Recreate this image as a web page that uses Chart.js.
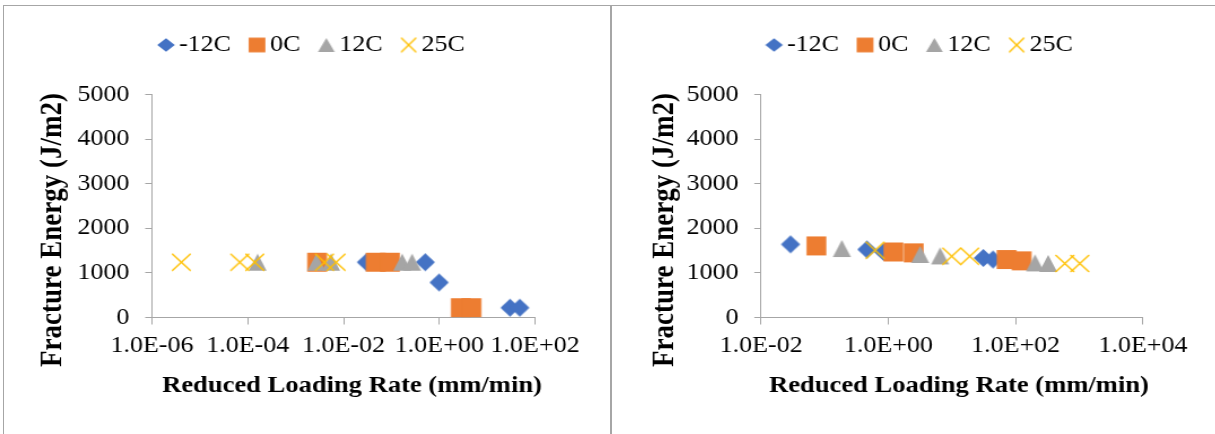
<!DOCTYPE html>
<html><head><meta charset="utf-8">
<script src="https://cdn.jsdelivr.net/npm/chart.js@4.4.1/dist/chart.umd.min.js"></script>
<style>
html,body{margin:0;padding:0;background:#fff;width:1215px;height:434px;overflow:hidden;position:relative}
.wrap{position:absolute;top:0;transform:scaleX(1.13);transform-origin:0 0}
.line{position:absolute;background:#a6a6a6}
</style></head><body>
<div class="wrap" style="left:0"><canvas id="c1" width="540" height="434"></canvas></div>
<div class="wrap" style="left:612px"><canvas id="c2" width="534" height="434"></canvas></div>
<div class="line" style="left:3px;top:5px;width:1212px;height:1px"></div>
<div class="line" style="left:3px;top:5px;width:1px;height:429px"></div>
<div class="line" style="left:610px;top:5px;width:2px;height:429px"></div>
<script>
// ---- data ----
const seriesNames = ['-12C', '0C', '12C', '25C'];
const seriesColors = ['#4472C4', '#ED7D31', '#A5A5A5', '#FFC000'];

// left chart
const leftRateM12 = [0.030, 0.51, 0.99, 30, 48];
const leftEnergyM12 = [1240, 1240, 785, 220, 220];
const leftRate0 = [0.0028, 0.047, 0.093, 2.8, 4.7];
const leftEnergy0 = [1240, 1240, 1240, 220, 220];
const leftRate12 = [1.6e-4, 2.7e-3, 5.5e-3, 0.168, 0.27];
const leftEnergy12 = [1240, 1240, 1240, 1240, 1240];
const leftRate25 = [4.1e-6, 6.8e-5, 1.4e-4, 4.0e-3, 7.0e-3];
const leftEnergy25 = [1240, 1240, 1240, 1240, 1240];

// right chart
const rightRateM12 = [0.029, 0.46, 0.84, 31, 44];
const rightEnergyM12 = [1640, 1525, 1470, 1335, 1300];
const rightRate0 = [0.074, 1.2, 2.5, 72, 124];
const rightEnergy0 = [1605, 1470, 1450, 1300, 1270];
const rightRate12 = [0.186, 3.15, 6.5, 201, 324];
const rightEnergy12 = [1547, 1413, 1381, 1224, 1211];
const rightRate25 = [0.62, 9.9, 19, 592, 1016];
const rightEnergy25 = [1509, 1374, 1374, 1211, 1211];

// ticks
const leftXTickValues = [1e-6, 1e-4, 1e-2, 1, 1e2];
const leftXTickLabels = ['1.0E-06', '1.0E-04', '1.0E-02', '1.0E+00', '1.0E+02'];
const rightXTickValues = [1e-2, 1, 1e2, 1e4];
const rightXTickLabels = ['1.0E-02', '1.0E+00', '1.0E+02', '1.0E+04'];
const yTickValues = [0, 1000, 2000, 3000, 4000, 5000];
const yTickLabels = ['0', '1000', '2000', '3000', '4000', '5000'];

const xTitle = 'Reduced Loading Rate (mm/min)';
const yTitle = 'Fracture Energy (J/m2)';

// ---- markers ----
function marker(shape, w, h, color) {
  const c = document.createElement('canvas');
  c.width = Math.ceil(w) + 2; c.height = Math.ceil(h) + 2;
  const g = c.getContext('2d');
  const cx = c.width / 2, cy = c.height / 2;
  g.fillStyle = color; g.strokeStyle = color;
  g.beginPath();
  if (shape === 'diamond') {
    g.moveTo(cx, cy - h / 2); g.lineTo(cx + w / 2, cy); g.lineTo(cx, cy + h / 2); g.lineTo(cx - w / 2, cy); g.closePath(); g.fill();
  } else if (shape === 'square') {
    g.fillRect(cx - w / 2, cy - h / 2, w, h);
  } else if (shape === 'triangle') {
    g.moveTo(cx, cy - h / 2); g.lineTo(cx + w / 2, cy + h / 2); g.lineTo(cx - w / 2, cy + h / 2); g.closePath(); g.fill();
  } else {
    g.lineWidth = 1.4;
    g.moveTo(cx - w / 2, cy - h / 2); g.lineTo(cx + w / 2, cy + h / 2);
    g.moveTo(cx + w / 2, cy - h / 2); g.lineTo(cx - w / 2, cy + h / 2); g.stroke();
  }
  return c;
}
const plotMarkers = [
  marker('diamond', 17, 18, seriesColors[0]),
  marker('square', 17.5, 19, seriesColors[1]),
  marker('triangle', 16, 17, seriesColors[2]),
  marker('x', 16.5, 17, seriesColors[3])
];
const legendMarkers = [
  marker('diamond', 15.5, 13.5, seriesColors[0]),
  marker('square', 14.8, 14.7, seriesColors[1]),
  marker('triangle', 14.8, 14, seriesColors[2]),
  marker('x', 13.3, 14.5, seriesColors[3])
];

const FONT = 'Liberation Serif';
const AXIS_GRAY = '#a6a6a6';

function makeDatasets(rates, energies) {
  return seriesNames.map((name, i) => ({
    label: name,
    data: rates[i].map((r, k) => ({x: r, y: energies[i][k]})),
    showLine: false,
    pointStyle: plotMarkers[i],
    pointRadius: 9,
    backgroundColor: seriesColors[i],
    borderColor: seriesColors[i],
    order: seriesNames.length - i
  }));
}

function tweakPlugin(gap, firstX, xTitlePos, yTitlePos) {
  return {
    id: 'tweak',
    beforeLayout(chart) {
      const lg = chart.legend;
      if (lg && !lg.__patched) {
        const f = lg.fit;
        lg.fit = function () { f.call(this); this.height += gap; };
        lg.__patched = true;
      }
    },
    afterLayout(chart) {
      const lg = chart.legend;
      if (!lg || !lg.lineWidths) return;
      const p = lg.options.labels.padding;
      const start = (lg.left + p + lg.right - lg.lineWidths[0]) / 2;
      const dx = firstX - start;
      lg.left += dx; lg.right += dx;
    },
    afterDraw(chart) {
      const ctx = chart.ctx;
      ctx.save();
      ctx.fillStyle = '#000';
      ctx.textAlign = 'center';
      ctx.textBaseline = 'middle';
      ctx.font = 'bold 23.5px "' + FONT + '"';
      ctx.fillText(xTitle, xTitlePos[0], xTitlePos[1]);
      ctx.translate(yTitlePos[0], yTitlePos[1]);
      ctx.rotate(-Math.PI / 2);
      ctx.font = 'bold 27px "' + FONT + '"';
      ctx.fillText(yTitle, 0, 0);
      ctx.restore();
    }
  };
}

function makeChart(id, datasets, xVals, xLabels, yAxisWidth, padRight, firstX, xTitlePos, yTitlePos) {
  const tickFont = {family: FONT, size: 23};
  return new Chart(document.getElementById(id), {
    type: 'scatter',
    data: {datasets},
    plugins: [tweakPlugin(28, firstX, xTitlePos, yTitlePos)],
    options: {
      responsive: false, animation: false, devicePixelRatio: 1, events: [],
      layout: {padding: {top: 10.5, left: 0, right: padRight, bottom: 0}},
      plugins: {
        tooltip: {enabled: false},
        legend: {
          position: 'top', align: 'center',
          labels: {
            usePointStyle: true, boxWidth: 0.01, padding: 23, color: '#000', font: tickFont,
            generateLabels: (chart) => chart.data.datasets.map((ds, i) => ({
              text: ds.label, pointStyle: legendMarkers[i], fillStyle: ds.backgroundColor,
              strokeStyle: ds.borderColor, lineWidth: 0, hidden: false, datasetIndex: i, fontColor: '#000'
            }))
          }
        }
      },
      scales: {
        x: {
          type: 'logarithmic', min: xVals[0], max: xVals[xVals.length - 1],
          afterBuildTicks: (s) => { s.ticks = xVals.map(v => ({value: v})); },
          afterFit: (s) => { s.height = 116.5; },
          ticks: {
            autoSkip: false, maxRotation: 0, minRotation: 0, padding: 7.5, color: '#000', font: tickFont,
            callback: (v) => { const i = xVals.indexOf(v); return i >= 0 ? xLabels[i] : ''; }
          },
          grid: {display: true, drawOnChartArea: false, drawTicks: true, tickLength: 7, color: AXIS_GRAY, lineWidth: 1},
          border: {display: true, color: AXIS_GRAY, width: 1},
          title: {display: false}
        },
        y: {
          type: 'linear', min: 0, max: 5000,
          afterBuildTicks: (s) => { s.ticks = yTickValues.map(v => ({value: v})); },
          afterFit: (s) => { s.width = yAxisWidth; },
          ticks: {
            padding: 14, color: '#000', font: tickFont,
            callback: (v) => { const i = yTickValues.indexOf(v); return i >= 0 ? yTickLabels[i] : ''; }
          },
          grid: {display: true, drawOnChartArea: false, drawTicks: true, tickLength: 6, color: AXIS_GRAY, lineWidth: 1},
          border: {display: true, color: AXIS_GRAY, width: 1},
          title: {display: false}
        }
      }
    }
  });
}

makeChart('c1',
  makeDatasets([leftRateM12, leftRate0, leftRate12, leftRate25], [leftEnergyM12, leftEnergy0, leftEnergy12, leftEnergy25]),
  leftXTickValues, leftXTickLabels, 134.5, 66.5, 146.9, [311.5, 386], [46.9, 230]);
makeChart('c2',
  makeDatasets([rightRateM12, rightRate0, rightRate12, rightRate25], [rightEnergyM12, rightEnergy0, rightEnergy12, rightEnergy25]),
  rightXTickValues, rightXTickLabels, 131.9, 64.1, 143.4, [307, 386], [46.9, 230]);
</script>
</body></html>
